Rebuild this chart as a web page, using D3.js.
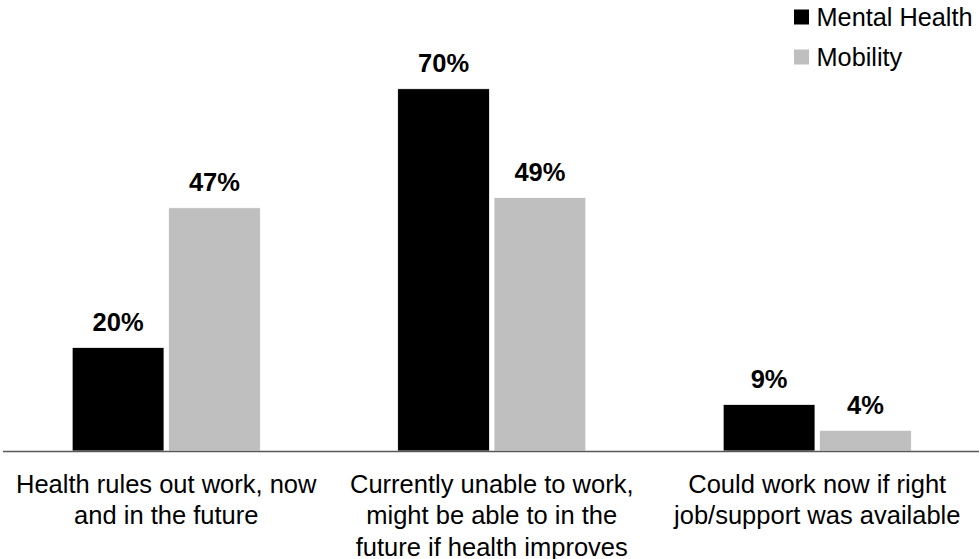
<!DOCTYPE html>
<html>
<head>
<meta charset="utf-8">
<script src="https://cdn.jsdelivr.net/npm/d3@7"></script>
<style>
  html, body { margin: 0; padding: 0; background: #ffffff; }
  svg { display: block; font-family: "Liberation Sans", Arial, Helvetica, sans-serif; }
</style>
</head>
<body>
<svg id="chart" width="980" height="559"></svg>
<script>
// Survey responses by condition type
const categories = [
  "Health rules out work, now|and in the future",
  "Currently unable to work,|might be able to in the|future if health improves",
  "Could work now if right|job/support was available"
];
const seriesNames = ["Mental Health", "Mobility"];
const mentalHealth = [0.20, 0.70, 0.09];
const mobility = [0.47, 0.49, 0.04];
const seriesColors = ["#000000", "#bfbfbf"];

const rows = categories.map((c, i) => ({
  category: c,
  values: [
    { series: seriesNames[0], value: mentalHealth[i] },
    { series: seriesNames[1], value: mobility[i] }
  ]
}));

const svg = d3.select("#chart");
const baseline = 451;

const x0 = d3.scaleBand()
  .domain(categories)
  .range([3.5, 980])
  .paddingInner(0.422)
  .paddingOuter(0.211);

const x1 = d3.scaleBand()
  .domain(seriesNames)
  .range([0, x0.bandwidth()])
  .paddingInner(0.047);

const y = d3.scaleLinear()
  .domain([0, 0.8])
  .range([baseline, 37]);

const color = d3.scaleOrdinal().domain(seriesNames).range(seriesColors);
const pct = d3.format(".0%");

// Bars
const groups = svg.append("g").selectAll("g")
  .data(rows)
  .join("g")
  .attr("transform", d => `translate(${x0(d.category)},0)`);

groups.selectAll("rect")
  .data(d => d.values)
  .join("rect")
  .attr("x", d => x1(d.series))
  .attr("y", d => y(d.value))
  .attr("width", x1.bandwidth())
  .attr("height", d => y(0) - y(d.value))
  .attr("fill", d => color(d.series))
  .attr("stroke", "#ffffff")
  .attr("stroke-width", 0.75);

// Value labels
groups.selectAll("text.val")
  .data(d => d.values)
  .join("text")
  .attr("class", "val")
  .attr("x", d => x1(d.series) + x1.bandwidth() / 2)
  .attr("y", d => y(d.value) - 16.5)
  .attr("text-anchor", "middle")
  .attr("font-size", 25.5)
  .attr("font-weight", "bold")
  .attr("fill", "#000000")
  .text(d => pct(d.value));

// Category axis
const xAxis = d3.axisBottom(x0).tickSize(0).tickFormat("");
const axisG = svg.append("g")
  .attr("transform", `translate(0,${baseline})`)
  .call(xAxis);
axisG.select(".domain")
  .attr("d", `M3,0.5H979`)
  .attr("stroke", "#595959")
  .attr("stroke-width", 1.3);

// Multi-line category labels
const catLabels = svg.append("g").selectAll("text")
  .data(categories)
  .join("text")
  .attr("x", d => x0(d) + x0.bandwidth() / 2)
  .attr("y", 492.5)
  .attr("text-anchor", "middle")
  .attr("font-size", 25.5)
  .attr("fill", "#000000");

catLabels.selectAll("tspan")
  .data(d => d.split("|"))
  .join("tspan")
  .attr("x", function () { return d3.select(this.parentNode).attr("x"); })
  .attr("dy", (d, i) => i === 0 ? 0 : 31.5)
  .text(d => d);

// Legend
const legend = svg.append("g").selectAll("g")
  .data(seriesNames)
  .join("g")
  .attr("transform", (d, i) => `translate(794,${9.5 + i * 40})`);

legend.append("rect")
  .attr("width", 15)
  .attr("height", 15)
  .attr("fill", d => color(d));

legend.append("text")
  .attr("x", 22.5)
  .attr("y", 16.5)
  .attr("font-size", 25.3)
  .attr("fill", "#000000")
  .text(d => d);
</script>
</body>
</html>
